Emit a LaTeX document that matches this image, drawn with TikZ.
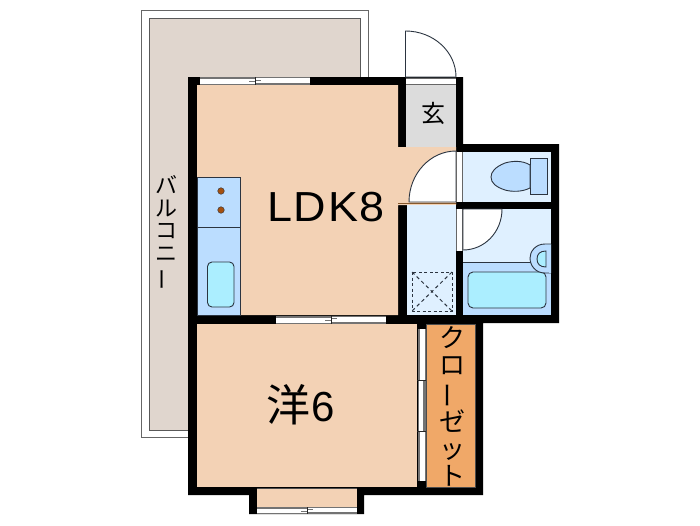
\documentclass[tikz,border=0pt]{standalone}
\usepackage{fontspec}
\setmainfont{Liberation Sans}
\newfontfamily\cjk{Noto Sans CJK JP}
\definecolor{peach}{HTML}{F3D2B5}
\definecolor{balc}{HTML}{E0D6CE}
\definecolor{wet}{HTML}{DFF0FF}
\definecolor{midblue}{HTML}{BBDDFF}
\definecolor{tub}{HTML}{ABEEFF}
\definecolor{closet}{HTML}{F0A868}
\definecolor{hall}{HTML}{DCDCDC}
\definecolor{hob}{HTML}{A5500F}
\definecolor{edge}{HTML}{2B3440}
\tikzset{
  line/.style={draw=edge,line width=0.9pt},
  thin line/.style={draw=edge,line width=0.7pt},
  track/.style={draw=black!55,line width=0.8pt},
  heavy track/.style={draw=black!55,line width=2pt},
  tick/.style={draw=black!85,line width=0.9pt},
  label/.style={inner sep=0pt,text=black},
}
\newcommand{\hwin}[4]{% x1,x2,y-top,height
  \pgfmathsetmacro{\xm}{(#1+#2)/2}
  \fill[white] (#1,#3) rectangle (#2,#3+#4);
  \draw[heavy track] (#1,#3+1) -- (\xm,#3+1) (\xm,#3+#4-1) -- (#2,#3+#4-1);
  \draw[track] (#1,#3+#4-.5) -- (\xm,#3+#4-.5) (\xm,#3+.5) -- (#2,#3+.5);
  \draw[track] (\xm-6,#3+#4/2+.7) -- (\xm,#3+#4/2+.7) (\xm,#3+#4/2-.7) -- (\xm+6,#3+#4/2-.7);
  \draw[tick] (\xm,#3) -- (\xm,#3+#4);
}
\begin{document}
\begin{tikzpicture}[x=1pt,y=-1pt]
\useasboundingbox (0,0) rectangle (700,525);
\fill[white] (0,0) rectangle (700,525);
% balcony
\draw[black!60,line width=1pt,fill=white] (141,437) -- (141,10.5) -- (368,10.5) -- (368,90) -- (190,90) -- (190,437) -- cycle;
\draw[black!65,line width=1pt,fill=balc] (190,430) -- (149,430) -- (149,18) -- (360,18) -- (360,90) -- (190,90) -- cycle;
% walls
\fill[black] (188,77) -- (463,77) -- (463,144) -- (559,144) -- (559,323) -- (483,323) -- (483,495) -- (364,495) -- (364,514) -- (249,514) -- (249,495) -- (188,495) -- cycle;
% LDK
\fill[peach] (197,85) -- (398,85) -- (398,147) -- (456,147) -- (456,205) -- (398,205) -- (398,315) -- (197,315) -- cycle;
% entry
\fill[hall] (406,85) rectangle (456,147);
% entry door
\draw[line,fill=white] (405.5,77) -- (405.5,31) .. controls (433.4,31) and (456,51.7) .. (456,77) -- cycle;
\fill[white] (406,78) rectangle (456,84);
\draw[black!60,line width=.6pt] (406,78) -- (456,78) (406,84) -- (456,84);
% toilet
\fill[wet] (463,152) rectangle (551,202);
\draw[line,fill=midblue] (530,158) rectangle (547,194);
\draw[line,fill=midblue] (530,165) .. controls (522,160) and (512,161) .. (505,163) .. controls (495,167) and (491,172) .. (491,177) .. controls (491,183) and (496,187) .. (505,190) .. controls (512,192) and (522,192) .. (530,188) -- cycle;
% toilet door
\draw[line,fill=white] (456,202) -- (409,202) .. controls (409,174) and (430,151) .. (456,151) -- cycle;
\fill[white] (456,152) rectangle (463,202);
\draw[black!60,line width=.6pt] (456.5,152) -- (456.5,202) (462.5,152) -- (462.5,202);
\draw[brown!70!black,line width=.8pt] (398,203) -- (456,203);
% wash room
\fill[wet] (407,205) rectangle (455.5,315);
\draw[line,dash pattern=on 3pt off 2.5pt,line width=1pt] (412,272) rectangle (452,311);
\draw[line,dash pattern=on 3.5pt off 3pt,line width=1pt] (412,272) -- (452,311) (452,272) -- (412,311);
% bath
\fill[wet] (463,209) rectangle (551,263);
\fill[midblue] (463,263) rectangle (551,315);
\draw[thin line] (463,262.5) -- (535,262.5);
\draw[line,fill=tub,rounded corners=5pt] (468,272) rectangle (546,308);
\draw[line,fill=midblue] (551,244) -- (545,244) .. controls (535,244) and (530,252) .. (530,258) .. controls (530,265) and (535,273) .. (545,273) -- (551,273);
\fill[midblue] (549,244.5) rectangle (551,272.5);
\draw[line,fill=tub] (546,251) .. controls (540,251) and (537,254) .. (537,259) .. controls (537,264) and (540,267) .. (546,267) -- cycle;
% bath door
\fill[white] (456,209) rectangle (463,251);
\draw[black!60,line width=.6pt] (456.5,209) -- (456.5,251) (462.5,209) -- (462.5,251);
\draw[line,fill=white] (463,209) -- (502,209) .. controls (502,232) and (484.5,250) .. (463,250) -- cycle;
% kitchen
\draw[thin line,fill=midblue] (197,177) -- (240,177) -- (240,315) -- (197,315) -- cycle;
\draw[thin line] (197,227) -- (240,227);
\fill[hob,draw=edge,line width=.4pt] (221,191) circle[radius=3.3];
\fill[hob,draw=edge,line width=.4pt] (221,210) circle[radius=3.3];
\draw[line,fill=tub,rounded corners=4.5pt] (207.5,262) rectangle (234,307);
% western room
\fill[peach] (197,324) rectangle (417,487);
\fill[peach] (257,488) rectangle (357,507);
\draw[black!70,line width=.5pt] (257,488) -- (357,488);
\fill[closet] (426,324) rectangle (475,487);
\draw[black!70,line width=.5pt] (426,324) rectangle (475,487);
% closet doors
\fill[white] (418,329) rectangle (425,481);
\draw[track] (418,329) -- (418,481) (425,329) -- (425,481);
\draw[heavy track] (419,329) -- (419,380) (424,380) -- (424,431) (419,431) -- (419,481);
\draw[tick] (417,380) -- (426,380) (417,431) -- (426,431);
% windows
\hwin{200}{310}{77}{8}
\hwin{276}{386}{315.5}{8}
\hwin{257}{357}{507}{6.5}
% labels
\node[label,font=\fontsize{42}{42}\selectfont\addfontfeature{LetterSpace=4}] (ldk) at (326,207) {\scalebox{1.07}[1]{LDK8}};
\node[label,font=\cjk\fontsize{24}{24}\selectfont] (gen) at (433,113) {玄};
\node[label] (you) at (301,405) {\fontsize{42}{42}\selectfont{\cjk\fontsize{44}{44}\selectfont 洋}\kern1pt 6};
\node[label,align=center,font=\cjk\fontsize{22}{22.5}\selectfont] (bal) at (166,233) {バ\\ル\\コ\\ニ\\\rotatebox[origin=c]{90}{ー}};
\node[label,align=center,font=\cjk\fontsize{26}{27}\selectfont] (clo) at (452,406) {ク\\ロ\\\rotatebox[origin=c]{90}{ー}\\ゼ\\ッ\\ト};
\end{tikzpicture}
\end{document}
